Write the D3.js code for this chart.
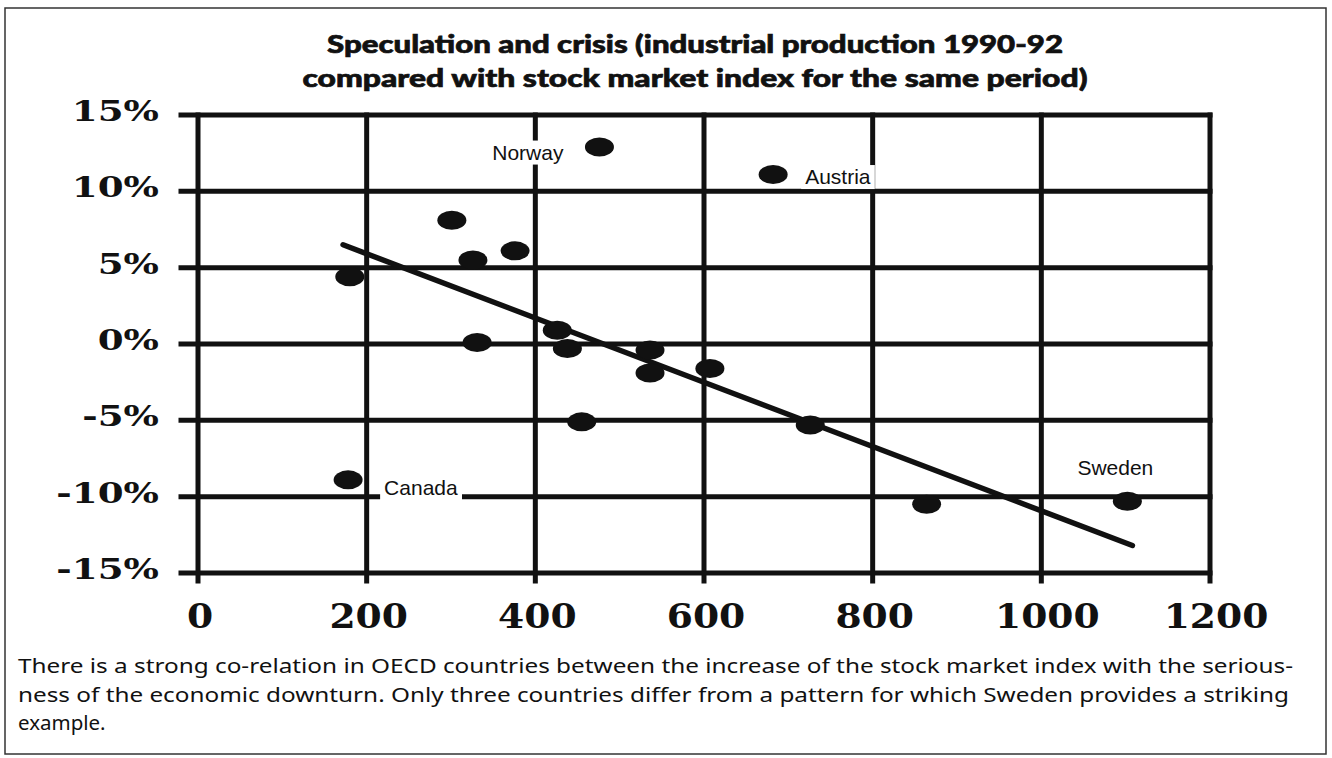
<!DOCTYPE html>
<html><head><meta charset="utf-8">
<script src="https://cdn.jsdelivr.net/npm/d3@7"></script>
<style>body{margin:0;background:#fff}</style>
</head><body><svg id="c" width="1332" height="758"></svg>
<script>
const titleLines = ["Speculation and crisis (industrial production 1990-92",
                    "compared with stock market index for the same period)"];
const xTicks = [0, 200, 400, 600, 800, 1000, 1200];
const yTicks = [15, 10, 5, 0, -5, -10, -15];
const yTickLabels = ["15%", "10%", "5%", "0%", "-5%", "-10%", "-15%"];
const countries = ["Canada", "", "", "", "", "", "", "", "", "Norway", "", "", "", "Austria", "", "", "Sweden"];
const stockIndex = [178, 180, 301, 326, 331, 376, 426, 438, 455, 476, 536, 536, 607, 682, 726, 864, 1102];
const production = [-8.9, 4.4, 8.1, 5.5, 0.1, 6.1, 0.9, -0.3, -5.1, 12.9, -0.4, -1.9, -1.6, 11.1, -5.3, -10.5, -10.3];
const trendX = [172, 1108];
const trendY = [6.5, -13.2];
const captionLines = [
  "There is a strong co-relation in OECD countries between the increase of the stock market index with the serious-",
  "ness of the economic downturn. Only three countries differ from a pattern for which Sweden provides a striking",
  "example."
];

const svg = d3.select("#c");
const x = d3.scaleLinear().domain([0, 1200]).range([198, 1210]);
const y = d3.scaleLinear().domain([-15, 15]).range([573, 115]);

// frame
svg.append("rect").attr("x", 5).attr("y", 8).attr("width", 1321).attr("height", 746)
  .attr("fill", "none").attr("stroke", "#333").attr("stroke-width", 1.5);

// title
svg.selectAll("text.title").data(titleLines).join("text").attr("class", "title")
  .attr("x", 695).attr("y", (d, i) => 53 + i * 34)
  .attr("text-anchor", "middle")
  .attr("font-family", "Lato, 'DejaVu Sans', sans-serif").attr("font-weight", 900)
  .attr("font-size", 25).attr("fill", "#111").attr("stroke", "#111").attr("stroke-width", 0.7)
  .attr("textLength", (d, i) => i === 0 ? 736 : 785).attr("lengthAdjust", "spacingAndGlyphs")
  .text(d => d);

const grid = svg.append("g").attr("stroke", "#111").attr("stroke-width", 5).attr("stroke-linecap", "square");
grid.selectAll("line.v").data(xTicks).join("line").attr("class", "v")
  .attr("x1", d => x(d)).attr("x2", d => x(d))
  .attr("y1", y(15)).attr("y2", y(-15) + 8);
grid.selectAll("line.h").data(yTicks).join("line").attr("class", "h")
  .attr("x1", x(0) - 17).attr("x2", x(1200))
  .attr("y1", d => y(d)).attr("y2", d => y(d));

// y tick labels
const yl = svg.append("g");
yl.selectAll("g").data(yTicks).join("g")
  .attr("transform", d => `translate(159,${y(d) + 6}) scale(1.33,1)`)
  .append("text").attr("text-anchor", "end")
  .attr("font-family", "'DejaVu Serif', serif").attr("font-weight", "bold")
  .attr("font-size", 28).attr("fill", "#111")
  .text((d, i) => yTickLabels[i]);

// x tick labels
const xl = svg.append("g");
xl.selectAll("g").data(xTicks).join("g")
  .attr("transform", d => `translate(${x(d) + (d >= 1000 ? 6 : 2)},628) scale(1.14,1)`)
  .append("text").attr("text-anchor", "middle")
  .attr("font-family", "'DejaVu Serif', serif").attr("font-weight", "bold")
  .attr("font-size", 33).attr("fill", "#111")
  .text(d => d);

// labels for named countries
const placement = {
  Norway: {dx: -36, dy: 5, anchor: "end"},
  Austria: {dx: 32, dy: 2, anchor: "start"},
  Canada: {dx: 36, dy: 8, anchor: "start"},
  Sweden: {dx: -12, dy: -34, anchor: "middle"}
};
const pts = stockIndex.map((v, i) => ({x: v, y: production[i], name: countries[i]}));
const named = pts.filter(p => p.name);
const lblG = svg.append("g");
named.forEach(p => {
  const pl = placement[p.name];
  const cx = x(p.x) + pl.dx, base = y(p.y) + pl.dy + 7.5;
  const g = lblG.append("g");
  const rect = g.append("rect").attr("fill", "#fff");
  const t = g.append("text").attr("x", cx).attr("y", base).attr("text-anchor", pl.anchor)
    .attr("font-family", "'Liberation Sans', Arial, sans-serif").attr("font-size", 21).attr("fill", "#111")
    .text(p.name);
  const bb = t.node().getBBox();
  rect.attr("x", bb.x - 4).attr("width", bb.width + 8).attr("y", base - 19).attr("height", 24);
});

// trend line
const line = d3.line().x(d => x(d[0])).y(d => y(d[1]));
svg.append("path").datum(trendX.map((v, i) => [v, trendY[i]]))
  .attr("d", line).attr("fill", "none").attr("stroke", "#111")
  .attr("stroke-width", 5.5).attr("stroke-linecap", "round");

// dots
svg.append("g").selectAll("ellipse").data(pts).join("ellipse")
  .attr("cx", d => x(d.x)).attr("cy", d => y(d.y))
  .attr("rx", 14.5).attr("ry", 9.5).attr("fill", "#111");

// caption
svg.selectAll("text.cap").data(captionLines).join("text").attr("class", "cap")
  .attr("x", 18).attr("y", (d, i) => 673 + i * 28.5)
  .attr("font-family", "'Noto Sans', 'Open Sans', sans-serif").attr("font-size", 20.5).attr("fill", "#111")
  .each(function(d, i) {
    if (i === 0) d3.select(this).attr("textLength", 1275).attr("lengthAdjust", "spacingAndGlyphs");
    if (i === 1) d3.select(this).attr("textLength", 1271).attr("lengthAdjust", "spacingAndGlyphs");
  })
  .text(d => d);
</script>
</body></html>
